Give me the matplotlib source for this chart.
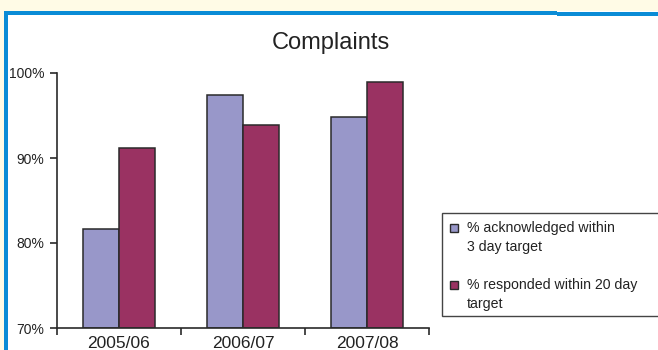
import matplotlib
matplotlib.use("Agg")
import matplotlib.pyplot as plt
from matplotlib.patches import Rectangle
import numpy as np

# complaint handling performance by year
years = ["2005/06", "2006/07", "2007/08"]
acknowledged = [81.6, 97.4, 94.8]   # % acknowledged within 3 day target
responded = [91.2, 93.9, 98.9]      # % responded within 20 day target
series_labels = ["% acknowledged within\n3 day target",
                 "% responded within 20 day\ntarget"]
yticks = [70, 80, 90, 100]

BLUE = "#9897c9"
MAROON = "#9a3262"
BORDER = "#0a8cd6"
CREAM = "#fffbe6"
EDGE = "#2a2a2a"

W, H = 658, 350
fig = plt.figure(figsize=(W / 100, H / 100), dpi=100)
fig.patch.set_facecolor("white")


def px_rect(x0, y0, x1, y1, **kw):
    """Rectangle in pixel coords (origin top-left) on the figure."""
    r = Rectangle((x0 / W, 1 - y1 / H), (x1 - x0) / W, (y1 - y0) / H,
                  transform=fig.transFigure, **kw)
    fig.patches.append(r)
    return r


# page furniture: cream strip and blue frame
px_rect(0, 0, W, 11, facecolor=CREAM, edgecolor="none")
px_rect(0, 11, 4, H, facecolor=CREAM, edgecolor="none")
px_rect(4, 11, 557, 15, facecolor=BORDER, edgecolor="none")
px_rect(557, 12, W, 16, facecolor=BORDER, edgecolor="none")
px_rect(4, 11, 8, H, facecolor=BORDER, edgecolor="none")

ax = fig.add_axes([57 / W, 1 - 328 / H, 372 / W, 255 / H])
ax.set_facecolor("none")

x = np.arange(len(years))
w = 0.29
ax.bar(x - w / 2, np.array(acknowledged) - 70, w, bottom=70, color=BLUE,
       edgecolor=EDGE, linewidth=1.1)
ax.bar(x + w / 2, np.array(responded) - 70, w, bottom=70, color=MAROON,
       edgecolor=EDGE, linewidth=1.1)

ax.set_xlim(-0.5, len(years) - 0.5)
ax.set_ylim(70, 100)
for s in ["top", "right"]:
    ax.spines[s].set_visible(False)
for s in ["left", "bottom"]:
    ax.spines[s].set_color(EDGE)
    ax.spines[s].set_linewidth(1.2)

ax.set_yticks(yticks)
ax.set_yticklabels([f"{v}%" for v in yticks], family="Liberation Sans",
                   fontsize=10, color="#222222")
ax.tick_params(axis="y", length=5, width=1.2, color=EDGE, pad=4)

# boundary ticks between categories, labels at the centres
ax.set_xticks(np.arange(len(years) + 1) - 0.5)
ax.set_xticklabels([])
ax.set_xticks(x, minor=True)
ax.set_xticklabels(years, minor=True, family="Liberation Sans",
                   fontsize=12.5, color="#222222")
ax.tick_params(axis="x", which="major", length=5, width=1.2, color=EDGE)
ax.tick_params(axis="x", which="minor", length=0, pad=6)

fig.text(331 / W, 1 - 43 / H, "Complaints", ha="center", va="center",
         family="Liberation Sans", fontsize=17, color="#222222")

# legend box
px_rect(442, 213, W + 5, 316, facecolor="white", edgecolor="#444444",
        linewidth=1.0)
for color, label, top in zip([BLUE, MAROON], series_labels, [224, 281]):
    px_rect(450, top, 458, top + 8, facecolor=color, edgecolor=EDGE,
            linewidth=1.0)
    fig.text(467 / W, 1 - (top - 3) / H, label, ha="left", va="top",
             family="Liberation Sans", fontsize=10.2, color="#222222",
             linespacing=1.45)

fig.savefig("out.png", dpi=100)
